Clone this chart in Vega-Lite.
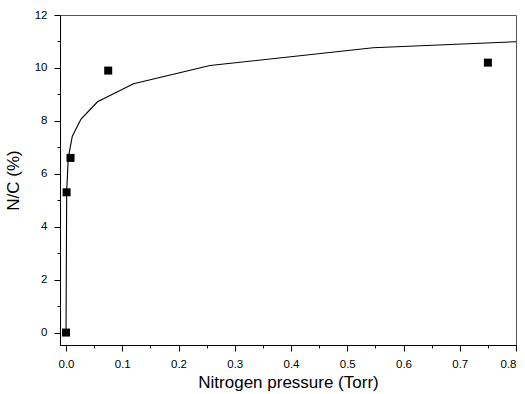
{
  "$schema": "https://vega.github.io/schema/vega-lite/v6.json",
  "width": 456,
  "height": 330,
  "autosize": "none",
  "padding": {"left": 60, "top": 15, "right": 9, "bottom": 49},
  "background": "white",
  "config": {
    "font": "Liberation Sans",
    "view": {"stroke": "#555555", "strokeWidth": 1},
    "axis": {
      "grid": false,
      "domainColor": "black",
      "domainWidth": 1,
      "tickColor": "black",
      "tickWidth": 1,
      "labelColor": "black",
      "labelFont": "Liberation Sans",
      "labelFontSize": 11.5,
      "titleFont": "Liberation Sans",
      "titleFontSize": 17,
      "titleFontWeight": "normal",
      "titleColor": "black"
    }
  },
  "datasets": {
    "measured": [
      {"pressure": 0.0, "nc": 0.0},
      {"pressure": 0.001, "nc": 5.3},
      {"pressure": 0.008, "nc": 6.6},
      {"pressure": 0.075, "nc": 9.9},
      {"pressure": 0.75, "nc": 10.2}
    ],
    "fit": [
      {"pressure": 0.0, "nc": 0.0},
      {"pressure": 0.0012, "nc": 5.33},
      {"pressure": 0.004, "nc": 6.6},
      {"pressure": 0.0112, "nc": 7.42},
      {"pressure": 0.0267, "nc": 8.07},
      {"pressure": 0.056, "nc": 8.72},
      {"pressure": 0.12, "nc": 9.4},
      {"pressure": 0.256, "nc": 10.09},
      {"pressure": 0.546, "nc": 10.76},
      {"pressure": 0.8, "nc": 10.99}
    ]
  },
  "encoding": {
    "x": {
      "field": "pressure",
      "type": "quantitative",
      "scale": {"domain": [-0.0107, 0.8], "nice": false, "zero": false},
      "axis": {
        "title": "Nitrogen pressure (Torr)",
        "values": [0, 0.05, 0.1, 0.15, 0.2, 0.25, 0.3, 0.35, 0.4, 0.45, 0.5, 0.55, 0.6, 0.65, 0.7, 0.75, 0.8],
        "format": ".1f",
        "labelExpr": "abs(datum.value * 10 - round(datum.value * 10)) < 1e-6 ? datum.label : ''",
        "tickSize": {"condition": {"test": "abs(datum.value * 10 - round(datum.value * 10)) < 1e-6", "value": 6}, "value": 3},
        "labelPadding": 7,
        "titlePadding": 5
      }
    },
    "y": {
      "field": "nc",
      "type": "quantitative",
      "scale": {"domain": [-0.47, 12], "nice": false, "zero": false},
      "axis": {
        "title": "N/C (%)",
        "values": [0, 1, 2, 3, 4, 5, 6, 7, 8, 9, 10, 11, 12],
        "labelExpr": "datum.value % 2 === 0 ? datum.label : ''",
        "tickSize": {"condition": {"test": "datum.value % 2 === 0", "value": 6}, "value": 3},
        "labelPadding": 7,
        "titlePadding": 12
      }
    }
  },
  "layer": [
    {
      "data": {"name": "fit"},
      "mark": {"type": "line", "color": "black", "strokeWidth": 1.1}
    },
    {
      "data": {"name": "measured"},
      "mark": {"type": "square", "color": "black", "filled": true, "opacity": 1, "size": 64}
    }
  ]
}
